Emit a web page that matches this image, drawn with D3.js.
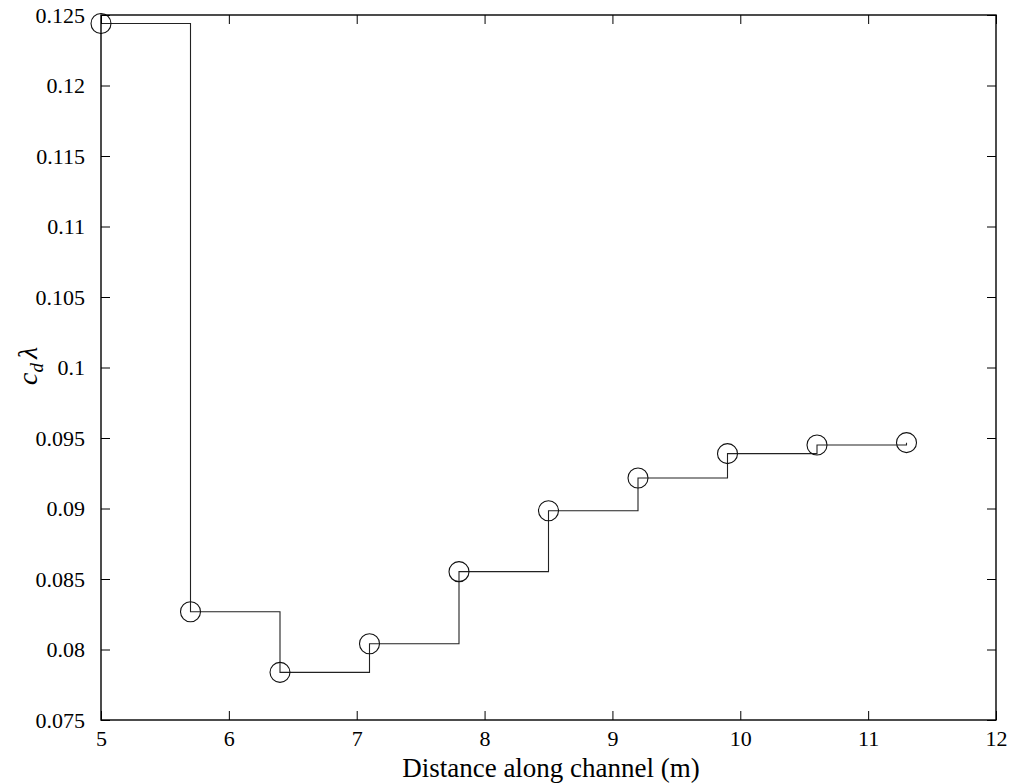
<!DOCTYPE html>
<html>
<head>
<meta charset="utf-8">
<script src="https://cdn.jsdelivr.net/npm/d3@7"></script>
<style>
  html, body { margin: 0; padding: 0; background: #fff; }
  svg { display: block; }
  text { font-family: "Liberation Serif", "Times New Roman", serif; fill: #000; }
</style>
</head>
<body>
<svg id="chart" width="1011" height="783"></svg>
<script>
// Distance along channel (m) and the fitted drag parameter at each station
const distance = [5, 5.7, 6.4, 7.1, 7.8, 8.5, 9.2, 9.9, 10.6, 11.3];
const cdLambda = [0.1244, 0.08268, 0.07838, 0.08041, 0.08552, 0.08984, 0.09216, 0.09389, 0.0945, 0.09467];
const xTicks = [5, 6, 7, 8, 9, 10, 11, 12];
const yTicks = [0.075, 0.08, 0.085, 0.09, 0.095, 0.1, 0.105, 0.11, 0.115, 0.12, 0.125];

const W = 1011, H = 783;
const margin = { left: 101, right: W - 996, top: 15, bottom: H - 720 };
const svg = d3.select("#chart");

const x = d3.scaleLinear().domain([5, 12]).range([margin.left, W - margin.right]);
const y = d3.scaleLinear().domain([0.075, 0.125]).range([H - margin.bottom, margin.top]);

const fmt = d => String(+d.toFixed(3));
const tickLen = 9;

// Stair line: each value is held until the next station
const pts = distance.map((d, i) => [d, cdLambda[i]]);
const line = d3.line().x(d => x(d[0])).y(d => y(d[1])).curve(d3.curveStepAfter);
const n = distance.length;
svg.append("path")
  .attr("d", line(pts) + `M${x(distance[n - 1])},${y(cdLambda[n - 2])}V${y(cdLambda[n - 1])}`)
  .attr("fill", "none").attr("stroke", "#222").attr("stroke-width", 1.1);

// Circle markers
svg.append("g").selectAll("circle").data(pts).join("circle")
  .attr("cx", d => x(d[0])).attr("cy", d => y(d[1])).attr("r", 10)
  .attr("fill", "none").attr("stroke", "#111").attr("stroke-width", 1.1);

// Axes: ticks pointing inward on all four sides
const axB = d3.axisBottom(x).tickValues(xTicks).tickSize(-tickLen).tickPadding(10).tickFormat(d3.format("d"));
const axT = d3.axisTop(x).tickValues(xTicks).tickSize(-tickLen).tickFormat("");
const axL = d3.axisLeft(y).tickValues(yTicks).tickSize(-tickLen).tickPadding(16).tickFormat(fmt);
const axR = d3.axisRight(y).tickValues(yTicks).tickSize(-tickLen).tickFormat("");

function style(g) {
  g.select(".domain").remove();
  g.selectAll(".tick line").attr("stroke", "#000").attr("stroke-width", 1);
  g.selectAll(".tick text").attr("font-size", 22).style("font-family", '"Liberation Serif", serif');
}
svg.append("g").attr("transform", `translate(0,${H - margin.bottom})`).call(axB).call(style);
svg.append("g").attr("transform", `translate(0,${margin.top})`).call(axT).call(style);
svg.append("g").attr("transform", `translate(${margin.left},0)`).call(axL).call(style);
svg.append("g").attr("transform", `translate(${W - margin.right},0)`).call(axR).call(style);

// Frame
svg.append("rect")
  .attr("x", margin.left).attr("y", margin.top)
  .attr("width", W - margin.right - margin.left).attr("height", H - margin.bottom - margin.top)
  .attr("fill", "none").attr("stroke", "#000").attr("stroke-width", 1.4);

// Axis titles
svg.append("text")
  .attr("x", 551).attr("y", 777)
  .attr("text-anchor", "middle").attr("font-size", 27)
  .text("Distance along channel (m)");

const yl = svg.append("text")
  .attr("transform", "translate(37,366) rotate(-90)")
  .attr("text-anchor", "middle").attr("font-size", 28);
yl.append("tspan").attr("font-style", "italic").text("c");
yl.append("tspan").attr("font-style", "italic").attr("font-size", 19).attr("dy", 6).text("d");
yl.append("tspan").attr("dy", -6).attr("dx", 4).attr("font-style", "italic").text("λ");
</script>
</body>
</html>
